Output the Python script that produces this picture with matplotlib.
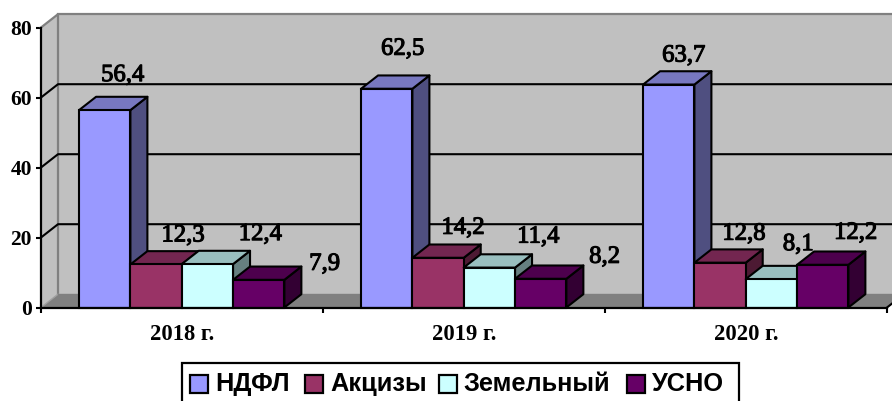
import matplotlib
matplotlib.use('Agg')
import matplotlib.pyplot as plt
import matplotlib.patheffects as pe
from matplotlib.patches import Polygon, Rectangle
from matplotlib.transforms import Affine2D

# Data
years = ['2018 г.', '2019 г.', '2020 г.']
ndfl = [56.4, 62.5, 63.7]
akcizy = [12.3, 14.2, 12.8]
zemelny = [12.4, 11.4, 8.1]
usno = [7.9, 8.2, 12.2]
series_names = ['НДФЛ', 'Акцизы', 'Земельный', 'УСНО']
y_ticks = [0, 20, 40, 60, 80]

# Colors: front, top, side
colors = {
    'НДФЛ': ('#9999ff', '#7878c0', '#4f4f80'),
    'Акцизы': ('#993366', '#732650', '#4d1a33'),
    'Земельный': ('#ccffff', '#99bfbf', '#668080'),
    'УСНО': ('#660066', '#4d004d', '#330033'),
}

W, H = 892, 401
fig = plt.figure(figsize=(W / 100, H / 100), dpi=100)
ax = fig.add_axes([41 / W, (H - 307.5) / H, 846 / W, 280 / H])
ax.set_xlim(0, 3)
ax.set_ylim(0, 80)

# 3D look, in data units
depth_x = 17 / 282
depth_y = 3.8
bar_w = 0.182
bar_start = 0.135
lw = 1.5

# Walls and floor
ax.add_patch(Polygon([(depth_x, depth_y), (3 + depth_x, depth_y), (3 + depth_x, 80 + depth_y),
                      (depth_x, 80 + depth_y)], fc='#c0c0c0', ec='none', clip_on=False, zorder=1))
ax.add_patch(Polygon([(0, 0), (depth_x, depth_y), (depth_x, 80 + depth_y), (0, 80)],
                     fc='#c0c0c0', ec='none', clip_on=False, zorder=1))
ax.add_patch(Polygon([(0, 0), (3, 0), (3 + depth_x, depth_y), (depth_x, depth_y)],
                     fc='#808080', ec='none', clip_on=False, zorder=1))
ax.plot([0, depth_x, depth_x], [80, 80 + depth_y, depth_y], color='#808080', lw=1.6, clip_on=False, zorder=2)
ax.plot([depth_x, 3 + depth_x], [80 + depth_y, 80 + depth_y], color='#808080', lw=1.6, clip_on=False, zorder=2)
ax.plot([0, depth_x], [0, depth_y], color='#a0a0a0', lw=1, clip_on=False, zorder=2)
ax.plot([depth_x, 3 + depth_x], [depth_y, depth_y], color='#808080', lw=1, clip_on=False, zorder=2)
ax.plot([3, 3 + depth_x], [0, depth_y], color='black', lw=lw, clip_on=False, zorder=2)

# Gridlines, over the side wall and the back wall
for v in y_ticks[1:-1]:
    ax.plot([0, depth_x, 3 + depth_x], [v, v + depth_y, v + depth_y], color='black', lw=lw,
            clip_on=False, zorder=3)

# Bars
all_series = [ndfl, akcizy, zemelny, usno]
z = 4
for g in range(len(years)):
    for s, vals in enumerate(all_series):
        front, top, side = colors[series_names[s]]
        x0 = g + bar_start + s * bar_w
        x1 = x0 + bar_w
        v = vals[g]
        ax.add_patch(Polygon([(x1, 0), (x1 + depth_x, depth_y), (x1 + depth_x, v + depth_y), (x1, v)],
                             fc=side, ec='black', lw=lw, joinstyle='round', clip_on=False, zorder=z))
        ax.add_patch(Polygon([(x0, v), (x1, v), (x1 + depth_x, v + depth_y), (x0 + depth_x, v + depth_y)],
                             fc=top, ec='black', lw=lw, joinstyle='round', clip_on=False, zorder=z))
        ax.add_patch(Rectangle((x0, 0), bar_w, v, fc=front, ec='black', lw=lw, clip_on=False, zorder=z))
        z += 1

# Value labels, pixel offsets from the front-top centre of each bar
label_offsets = [
    [(18, 35), (27, 29), (53, 30), (66, 16)],
    [(16, 40), (25, 30), (49, 31), (64, 22)],
    [(15, 29), (24, 29), (27, 35), (33, 32)],
]
for g in range(len(years)):
    for s, vals in enumerate(all_series):
        x = g + bar_start + (s + 0.5) * bar_w
        txt = f'{vals[g]:.1f}'.replace('.', ',')
        ax.annotate(txt, xy=(x, vals[g]), xytext=label_offsets[g][s], textcoords='offset pixels',
                    ha='center', va='center', family='Liberation Serif', fontsize=17.8,
                    color='black', zorder=50, annotation_clip=False,
                    path_effects=[pe.withStroke(linewidth=0.8, foreground='black')])

# Axes
for name in ['top', 'right']:
    ax.spines[name].set_visible(False)
for name in ['left', 'bottom']:
    ax.spines[name].set_linewidth(1.6)
    ax.spines[name].set_zorder(40)
ax.patch.set_visible(False)
ax.set_yticks(y_ticks)
ax.set_yticklabels([str(v) for v in y_ticks], family='Liberation Serif', fontweight='bold', fontsize=15.5)
ax.tick_params(axis='y', length=3.6, width=1.5, pad=3)
ax.set_xticks([0, 1, 2, 3])
ax.set_xticklabels([])
ax.tick_params(axis='x', length=3.6, width=1.5)
ax.set_xticks([0.5, 1.5, 2.5], minor=True)
ax.set_xticklabels(years, minor=True, family='Liberation Serif', fontweight='bold', fontsize=16.3)
ax.tick_params(axis='x', which='minor', length=0, pad=12)

# Legend box, placed in pixels
px = Affine2D().scale(1, -1).translate(0, H)
fig.add_artist(Rectangle((182, 363), 557, 44, fc='white', ec='black', lw=1.6, transform=px))
swatch_x = [190, 305, 439, 627]
text_x = [215, 330, 463, 652]
for s, name in enumerate(series_names):
    fig.add_artist(Rectangle((swatch_x[s], 375), 18, 18, fc=colors[name][0], ec='black', lw=1.6, transform=px))
    fig.text(text_x[s], 384, name, transform=px, family='Liberation Sans', fontweight='bold',
             fontsize=18.3, ha='left', va='center', color='black')

plt.savefig('out.png', dpi=100)
